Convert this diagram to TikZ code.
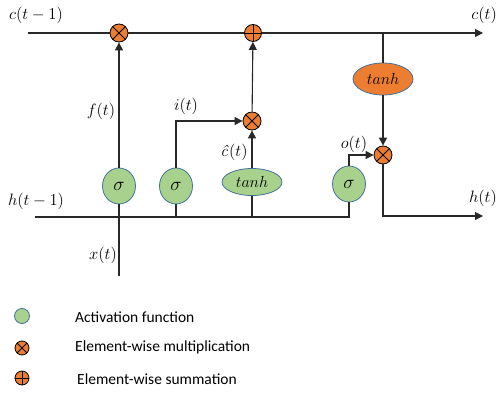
\RequirePackage{fix-cm}
\documentclass[tikz,border=0pt]{standalone}
\usepackage{fontspec}
\newfontfamily\legendfont{Carlito}
\usetikzlibrary{arrows.meta,shapes.geometric}
\definecolor{actgreen}{RGB}{169,209,142}
\definecolor{actborder}{RGB}{65,113,156}
\definecolor{opor}{RGB}{237,125,49}
\definecolor{linegray}{RGB}{40,40,40}
\tikzset{
  conn/.style={draw=linegray, line width=1.1pt},
  arr/.style={conn, -{Triangle[length=8pt,width=8pt]}},
  act/.style={ellipse, draw=actborder, line width=0.8pt, fill=actgreen, inner sep=0pt, minimum width=33pt, minimum height=36pt, font=\fontsize{19}{21}\selectfont},
  tanhg/.style={ellipse, draw=actborder, line width=0.8pt, fill=actgreen, inner sep=0pt, minimum width=60pt, minimum height=27pt, font=\fontsize{16}{18}\selectfont},
  tanho/.style={ellipse, draw=actborder, line width=0.8pt, fill=opor, inner sep=0pt, minimum width=60pt, minimum height=32pt, font=\fontsize{16}{18}\selectfont},
  mult/.style={circle, draw=black, line width=0.8pt, fill=opor, inner sep=0pt, minimum size=#1,
    path picture={\draw[black, line width=0.8pt] ([shift={(-0.36*#1,-0.36*#1)}]path picture bounding box.center) -- ([shift={(0.36*#1,0.36*#1)}]path picture bounding box.center)
      ([shift={(-0.36*#1,0.36*#1)}]path picture bounding box.center) -- ([shift={(0.36*#1,-0.36*#1)}]path picture bounding box.center);}},
  mult/.default=18pt,
  plusn/.style={circle, draw=black, line width=0.8pt, fill=opor, inner sep=0pt, minimum size=#1,
    path picture={\draw[black, line width=0.8pt] ([xshift=-0.5*#1]path picture bounding box.center) -- ([xshift=0.5*#1]path picture bounding box.center)
      ([yshift=-0.5*#1]path picture bounding box.center) -- ([yshift=0.5*#1]path picture bounding box.center);}},
  plusn/.default=17pt,
  lbl/.style={font=\fontsize{16.5}{19}\selectfont, inner sep=0pt},
  leg/.style={font=\legendfont\fontsize{15.5}{18}\selectfont, anchor=west, inner sep=0pt},
}
\begin{document}
\begin{tikzpicture}[x=1pt,y=-1pt]
\useasboundingbox (0,0) rectangle (498,396);
% operator nodes
\node[mult] (m1) at (119,33) {};
\node[plusn] (p1) at (253,33) {};
\node[mult] (m2) at (252,121) {};
\node[mult] (m3) at (383,155) {};
% activations
\node[act] (s1) at (119,186) {$\sigma$};
\node[act] (s2) at (176,186) {$\sigma$};
\node[tanhg] (tg) at (252,182) {$tanh$};
\node[act] (s4) at (349,184) {$\sigma$};
\node[tanho] (to) at (383,79) {$tanh$};
% coordinates
\coordinate (cstart) at (28,33);
\coordinate (cend) at (483,33);
\coordinate (tap) at (383,33);
\coordinate (hstart) at (35,217);
\coordinate (hcorner) at (349,217);
\coordinate (xin) at (119,276);
\coordinate (hout) at (483,216);
% connectors
\draw[conn] (cstart) -- (m1);
\draw[conn] (m1) -- (p1);
\draw[arr] (p1) -- (cend);
\draw[conn] (tap) -- (to);
\draw[arr] (to) -- (m3);
\draw[conn] (xin) -- (s1);
\draw[arr] (s1) -- (m1);
\draw[conn] (hstart) -- (hcorner) -- (s4);
\draw[conn] (s2) -- (s2 |- hstart);
\draw[arr] (s2) |- (m2);
\draw[conn] (tg) -- (tg |- hstart);
\draw[arr] (tg) -- (m2);
\draw[arr] (m2) -- (p1);
\draw[arr] (s4.north) |- (m3);
\draw[arr] (m3) |- (hout);
% labels
\node[lbl] (lc0) at (36,15) {$c(t-1)$};
\node[lbl, anchor=east] (lc1) at (497,15) {$c(t)$};
\node[lbl] (lf) at (101,111) {$f(t)$};
\node[lbl] (li) at (186,106) {$i(t)$};
\node[lbl] (lch) at (234,152) {\textit{ĉ}$(t)$};
\node[lbl] (lo) at (354,144) {$o(t)$};
\node[lbl] (lh0) at (36,201) {$h(t-1)$};
\node[lbl] (lx) at (103,255) {$x(t)$};
\node[lbl, anchor=east] (lh1) at (497,198) {$h(t)$};
% legend
\node[circle, draw=actborder, line width=0.8pt, fill=actgreen, minimum size=15pt, inner sep=0pt] (lg1) at (22,316) {};
\node[mult=14pt] (lg2) at (22,348) {};
\node[plusn=14pt] (lg3) at (22,378) {};
\node[leg] (lt1) at (75,317) {Activation function};
\node[leg] (lt2) at (75,347) {Element-wise multiplication};
\node[leg] (lt3) at (77,379) {Element-wise summation};
\end{tikzpicture}
\end{document}
